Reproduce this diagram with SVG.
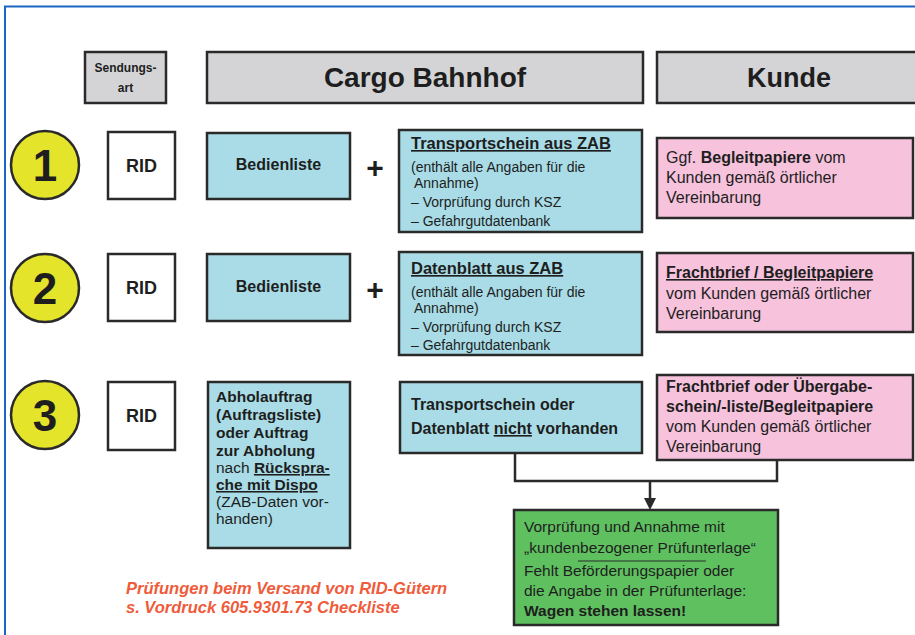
<svg xmlns="http://www.w3.org/2000/svg" width="915" height="635" viewBox="0 0 915 635">
<style>
text{font-family:"Liberation Sans",Arial,Helvetica,sans-serif;fill:#1e1e1e}
.b{font-weight:bold}
.box{stroke:#2a2a2a;stroke-width:2.5}
.hdr{fill:#d4d4d6}
.blue{fill:#a9dce6}
.pink{fill:#f6c2dc}
.green{fill:#5fc060}
.white{fill:#ffffff}
.circ{fill:#e4e42a;stroke:#2a2a2a;stroke-width:2.5}
.num{font-size:44px;font-weight:bold;text-anchor:middle}
.rid{font-size:18px;font-weight:bold;text-anchor:middle}
.t14{font-size:14px}
.t15{font-size:16px}
.g{font-size:15.5px}
.u{text-decoration:underline}
.conn{fill:none;stroke:#2a2a2a;stroke-width:2.5}
.red{fill:#ef5b3b;font-size:16.5px;font-weight:bold;font-style:italic}
</style>
<rect x="0" y="0" width="915" height="635" fill="#ffffff"/>
<path d="M5,635 V6.5 H915" fill="none" stroke="#1a66c4" stroke-width="2"/>

<g id="hdr-sendungsart">
<rect class="box hdr" x="85" y="52" width="81" height="51"/>
<text class="b" x="125.5" y="72" font-size="12" text-anchor="middle">Sendungs-</text>
<text class="b" x="125.5" y="92" font-size="12" text-anchor="middle">art</text>
</g>
<g id="hdr-cargo">
<rect class="box hdr" x="207" y="52" width="436" height="51"/>
<text class="b" x="425" y="87" font-size="28" text-anchor="middle">Cargo Bahnhof</text>
</g>
<g id="hdr-kunde">
<rect class="box hdr" x="657" y="52" width="262" height="51"/>
<text class="b" x="789" y="87" font-size="27" text-anchor="middle">Kunde</text>
</g>

<g id="n1"><circle class="circ" cx="45" cy="165" r="34"/><text class="num" x="45" y="181">1</text></g>
<g id="n2"><circle class="circ" cx="45" cy="288" r="34"/><text class="num" x="45" y="304">2</text></g>
<g id="n3"><circle class="circ" cx="45" cy="415" r="34"/><text class="num" x="45" y="431">3</text></g>

<g id="rid1"><rect class="box white" x="108" y="132" width="67" height="67"/><text class="rid" x="141.5" y="172">RID</text></g>
<g id="rid2"><rect class="box white" x="108" y="254" width="67" height="67"/><text class="rid" x="141.5" y="294">RID</text></g>
<g id="rid3"><rect class="box white" x="108" y="382" width="67" height="68"/><text class="rid" x="141.5" y="422">RID</text></g>

<g id="bed1"><rect class="box blue" x="207" y="133" width="143" height="66"/><text class="b" x="278.5" y="170" font-size="16" text-anchor="middle">Bedienliste</text></g>
<g id="bed2"><rect class="box blue" x="207" y="254" width="143" height="67"/><text class="b" x="278.5" y="292" font-size="16" text-anchor="middle">Bedienliste</text></g>

<g id="plus1"><text class="b" x="375" y="178" font-size="30" text-anchor="middle">+</text></g>
<g id="plus2"><text class="b" x="375" y="300" font-size="30" text-anchor="middle">+</text></g>

<g id="ts1">
<rect class="box blue" x="399" y="130" width="243" height="102"/>
<text class="b u" x="411" y="149" font-size="16.5">Transportschein aus ZAB</text>
<text class="t14" x="411" y="172">(enthält alle Angaben für die</text>
<text class="t14" x="414" y="188">Annahme)</text>
<text class="t14" x="411" y="207">– Vorprüfung durch KSZ</text>
<text class="t14" x="411" y="226">– Gefahrgutdatenbank</text>
</g>
<g id="db2">
<rect class="box blue" x="399" y="252" width="243" height="103"/>
<text class="b u" x="411" y="274" font-size="16.5">Datenblatt aus ZAB</text>
<text class="t14" x="411" y="297">(enthält alle Angaben für die</text>
<text class="t14" x="414" y="313">Annahme)</text>
<text class="t14" x="411" y="332">– Vorprüfung durch KSZ</text>
<text class="t14" x="411" y="350">– Gefahrgutdatenbank</text>
</g>

<g id="k1">
<rect class="box pink" x="657" y="138" width="256" height="80"/>
<text class="t15" x="666" y="163">Ggf. <tspan class="b">Begleitpapiere</tspan> vom</text>
<text class="t15" x="666" y="183">Kunden gemäß örtlicher</text>
<text class="t15" x="666" y="203">Vereinbarung</text>
</g>
<g id="k2">
<rect class="box pink" x="657" y="253" width="256" height="79"/>
<text class="t15 b u" x="666" y="278">Frachtbrief / Begleitpapiere</text>
<text class="t15" x="666" y="299">vom Kunden gemäß örtlicher</text>
<text class="t15" x="666" y="319">Vereinbarung</text>
</g>

<g id="abhol">
<rect class="box blue" x="208" y="382" width="142" height="166"/>
<text class="b" x="216" y="402" font-size="15.5">Abholauftrag</text>
<text class="b" x="216" y="420" font-size="15.5">(Auftragsliste)</text>
<text class="b" x="216" y="438" font-size="15.5">oder Auftrag</text>
<text class="b" x="216" y="456" font-size="15.5">zur Abholung</text>
<text x="216" y="473" font-size="15.5">nach <tspan class="b u">Rückspra-</tspan></text>
<text class="b u" x="216" y="490" font-size="15.5">che mit Dispo</text>
<text x="216" y="507" font-size="15.5">(ZAB-Daten vor-</text>
<text x="216" y="524" font-size="15.5">handen)</text>
</g>

<g id="ts3">
<rect class="box blue" x="400" y="382" width="242" height="71"/>
<text class="b" x="411" y="410" font-size="16">Transportschein oder</text>
<text class="b" x="411" y="434" font-size="16">Datenblatt <tspan class="u">nicht</tspan> vorhanden</text>
</g>

<g id="k3">
<rect class="box pink" x="657" y="375" width="256" height="85"/>
<text class="b" x="666" y="392" font-size="16">Frachtbrief oder Übergabe-</text>
<text class="b" x="666" y="412" font-size="16">schein/-liste/Begleitpapiere</text>
<text class="t15" x="666" y="432">vom Kunden gemäß örtlicher</text>
<text class="t15" x="666" y="452">Vereinbarung</text>
</g>

<g id="connectors">
<path class="conn" d="M515,453 V481 H777 V460"/>
<path class="conn" d="M650,481 V500"/>
<path d="M644,498 L656,498 L650,510 Z" fill="#2a2a2a"/>
</g>

<g id="pruef">
<rect class="box green" x="514" y="510" width="264" height="115"/>
<text class="g" x="524" y="532">Vorprüfung und Annahme mit</text>
<text class="g" x="524" y="553">„kundenbezogener Prüfunterlage“</text>
<line x1="578" y1="561" x2="706" y2="561" stroke="#2a2a2a" stroke-width="1"/>
<text class="g" x="524" y="576">Fehlt Beförderungspapier oder</text>
<text class="g" x="524" y="596">die Angabe in der Prüfunterlage:</text>
<text class="g b" x="524" y="616">Wagen stehen lassen!</text>
</g>

<g id="hinweis">
<text class="red" x="126" y="594">Prüfungen beim Versand von RID-Gütern</text>
<text class="red" x="126" y="613">s. Vordruck 605.9301.73 Checkliste</text>
</g>
</svg>
